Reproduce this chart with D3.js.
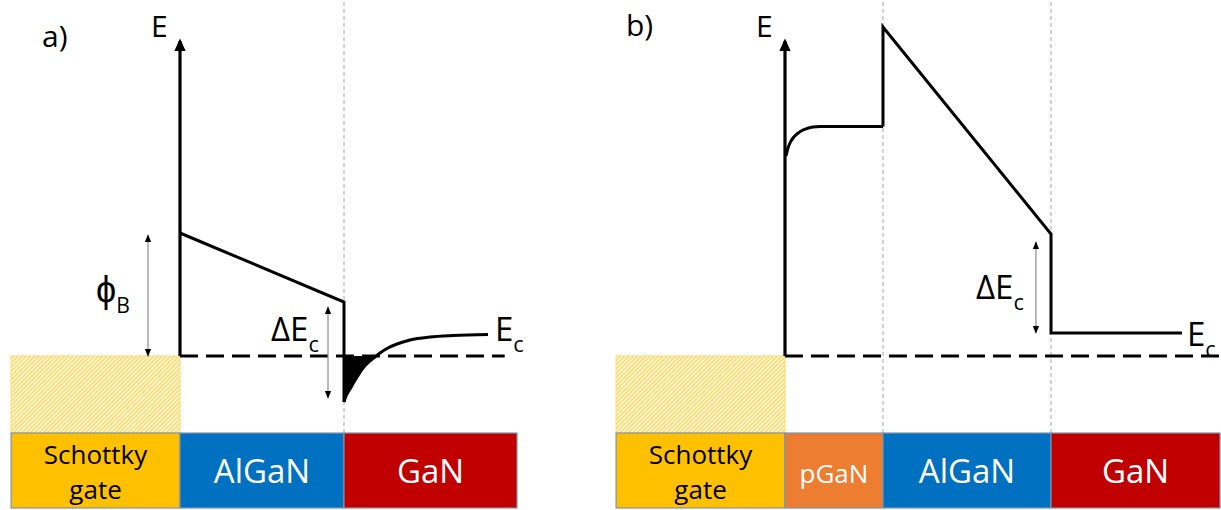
<!DOCTYPE html>
<html><head><meta charset="utf-8">
<script src="https://cdn.jsdelivr.net/npm/d3@7"></script>
<style>
html,body{margin:0;padding:0;background:#fff;}
svg{display:block;font-family:"Open Sans",sans-serif;}
</style></head>
<body>
<svg id="chart" width="1221" height="510"></svg>
<script>
// ---------------- data (position in nm, energy in eV relative to E_F) ----------------
const layerNamesA = ["Schottky gate", "AlGaN", "GaN"];
const layerEdgesA = [-20.6, 0, 20, 41.1];
const layerNamesB = ["Schottky gate", "pGaN", "AlGaN", "GaN"];
const layerEdgesB = [-20.6, 0, 11.95, 32.44, 53.05];

// panel a conduction band
const bandA_lines = [[0, 1.23], [20, 0.54], [20, -0.46]];
const bandA_tail = [[20, -0.46], [20.24, -0.40], [20.73, -0.33], [21.59, -0.21], [22.32, -0.12],
  [23.17, -0.05], [23.78, -0.01], [24.39, 0.03], [25.24, 0.075], [26.46, 0.12], [28.05, 0.16],
  [30.49, 0.19], [33.29, 0.205], [37.56, 0.215]];
const fermiA = [0, 39.6];
const axisTopA = 3.21;
const phiB_A = { x: -3.9, from: 0.0, to: 1.21 };
const dEc_A = { x: 18.05, from: -0.42, to: 0.49 };

// panel b conduction band
const bandB_curve = [[0.12, 2.0], [0.37, 2.08], [0.61, 2.13], [0.98, 2.18], [1.46, 2.22], [2.07, 2.255],
  [2.68, 2.275], [3.41, 2.29], [4.27, 2.295], [11.95, 2.295]];
const bandB_lines = [[11.95, 2.295], [11.95, 3.29], [32.44, 1.22], [32.44, 0.23], [48.41, 0.23]];
const fermiB = [0, 53.17];
const axisTopB = 3.21;
const dEc_B = { x: 30.6, from: 0.23, to: 1.14 };

// ---------------- scales ----------------
const xA = d3.scaleLinear().domain([0, 20]).range([180, 344]);
const xB = d3.scaleLinear().domain([0, 20]).range([785, 949]);
const yE = d3.scaleLinear().domain([0, 1]).range([356, 256]);
const layerColor = d3.scaleOrdinal()
  .domain(["Schottky gate", "pGaN", "AlGaN", "GaN"])
  .range(["#FFC000", "#ED7D31", "#0070C0", "#C00000"]);
const layerTextColor = d3.scaleOrdinal()
  .domain(["Schottky gate", "pGaN", "AlGaN", "GaN"])
  .range(["#000000", "#ffffff", "#ffffff", "#ffffff"]);
const layerFont = d3.scaleOrdinal()
  .domain(["Schottky gate", "pGaN", "AlGaN", "GaN"])
  .range([26, 26, 33, 33]);

const svg = d3.select("#chart");
const defs = svg.append("defs");
const pat = defs.append("pattern").attr("id", "hatch").attr("width", 3).attr("height", 3)
  .attr("patternUnits", "userSpaceOnUse").attr("patternTransform", "rotate(45)");
pat.append("rect").attr("width", 3).attr("height", 3).attr("fill", "#fff6d8");
pat.append("line").attr("x1", 0).attr("y1", 0).attr("x2", 0).attr("y2", 3)
  .attr("stroke", "#FFC000").attr("stroke-width", 1.4);
const mk = defs.append("marker").attr("id", "ah").attr("viewBox", "0 0 10 10")
  .attr("refX", 9).attr("refY", 5).attr("markerWidth", 8).attr("markerHeight", 8)
  .attr("markerUnits", "userSpaceOnUse").attr("orient", "auto-start-reverse");
mk.append("path").attr("d", "M0,1 L10,5 L0,9 Z").attr("fill", "#000");
const mkBig = defs.append("marker").attr("id", "axh").attr("viewBox", "0 0 10 10")
  .attr("refX", 8).attr("refY", 5).attr("markerWidth", 13).attr("markerHeight", 13)
  .attr("markerUnits", "userSpaceOnUse").attr("orient", "auto");
mkBig.append("path").attr("d", "M0,0.5 L10,5 L0,9.5 Z").attr("fill", "#000");

const LAYER_TOP = 433, LAYER_BOT = 508;

function drawPanel(x, names, edges, label, labelPos) {
  const g = svg.append("g");
  edges.slice(2, edges.length - 1).forEach(e => {
    g.append("line").attr("x1", x(e)).attr("x2", x(e)).attr("y1", 2).attr("y2", LAYER_TOP)
      .attr("stroke", "#a6a6a6").attr("stroke-width", 1).attr("stroke-dasharray", "4,3");
  });
  g.append("rect").attr("x", x(edges[0])).attr("y", yE(0)).attr("width", x(edges[1]) - x(edges[0]))
    .attr("height", LAYER_TOP - yE(0)).attr("fill", "url(#hatch)").attr("stroke", "#FFD966").attr("stroke-width", 1);
  names.forEach((n, i) => {
    const x0 = x(edges[i]), x1 = x(edges[i + 1]);
    g.append("rect").attr("x", x0).attr("y", LAYER_TOP).attr("width", x1 - x0).attr("height", LAYER_BOT - LAYER_TOP)
      .attr("fill", layerColor(n)).attr("stroke", "#7f93ae").attr("stroke-width", 1.2);
    const cx = (x0 + x1) / 2;
    if (n === "Schottky gate") {
      g.append("text").attr("text-anchor", "middle").attr("fill", layerTextColor(n))
        .attr("font-size", layerFont(n)).attr("x", cx).attr("y", 464).text("Schottky");
      g.append("text").attr("text-anchor", "middle").attr("fill", layerTextColor(n))
        .attr("font-size", layerFont(n)).attr("x", cx).attr("y", 499).text("gate");
    } else {
      g.append("text").attr("text-anchor", "middle").attr("fill", layerTextColor(n))
        .attr("font-size", layerFont(n)).attr("x", cx).attr("y", 483).text(n);
    }
  });
  g.append("text").attr("x", labelPos[0]).attr("y", labelPos[1]).attr("font-size", 30).text(label);
  return g;
}

function subLabel(g, x, y, main, sub, size, anchor, mainSize) {
  const t = g.append("text").attr("x", x).attr("y", y).attr("font-size", size).attr("text-anchor", anchor || "start");
  t.append("tspan").attr("font-size", mainSize || size).text(main);
  t.append("tspan").attr("font-size", size * 0.66).attr("dy", size * 0.33).text(sub);
  return t;
}

const lineGen = (x) => d3.line().x(d => x(d[0])).y(d => yE(d[1]));

// ---------------- panel a ----------------
const gA = drawPanel(xA, layerNamesA, layerEdgesA, "a)", [42, 47]);
const negPts = bandA_tail.filter(d => d[1] <= 0);
const fillPts = [[20, 0]].concat(negPts).concat([[23.85, 0]]);
gA.append("path").attr("d", d3.line().x(d => xA(d[0])).y(d => yE(d[1])).curve(d3.curveMonotoneY)(fillPts))
  .attr("fill", "#000");
gA.append("line").attr("x1", xA(fermiA[0])).attr("x2", xA(fermiA[1])).attr("y1", yE(0)).attr("y2", yE(0))
  .attr("stroke", "#000").attr("stroke-width", 3).attr("stroke-dasharray", "18,8");
gA.append("line").attr("x1", xA(0)).attr("x2", xA(0)).attr("y1", yE(0)).attr("y2", yE(axisTopA) + 6)
  .attr("stroke", "#000").attr("stroke-width", 3.2).attr("marker-end", "url(#axh)");
gA.append("path").attr("d", lineGen(xA)(bandA_lines)).attr("fill", "none").attr("stroke", "#000")
  .attr("stroke-width", 3).attr("stroke-linejoin", "miter");
gA.append("path").attr("d", lineGen(xA).curve(d3.curveMonotoneX)(bandA_tail)).attr("fill", "none")
  .attr("stroke", "#000").attr("stroke-width", 3);
[phiB_A, dEc_A].forEach(a => {
  gA.append("line").attr("x1", xA(a.x)).attr("x2", xA(a.x)).attr("y1", yE(a.from)).attr("y2", yE(a.to))
    .attr("stroke", "#8c8c8c").attr("stroke-width", 1.2)
    .attr("marker-start", "url(#ah)").attr("marker-end", "url(#ah)");
});
gA.append("text").attr("x", 151).attr("y", 37).attr("font-size", 30).text("E");
subLabel(gA, 96, 302, "ϕ", "B", 32, "start", 36);
subLabel(gA, 271, 341, "ΔE", "c", 33);
subLabel(gA, 495, 341, "E", "c", 33);

// ---------------- panel b ----------------
const gB = drawPanel(xB, layerNamesB, layerEdgesB, "b)", [626, 36]);
gB.append("line").attr("x1", xB(fermiB[0])).attr("x2", xB(fermiB[1])).attr("y1", yE(0)).attr("y2", yE(0))
  .attr("stroke", "#000").attr("stroke-width", 3).attr("stroke-dasharray", "18,8");
gB.append("line").attr("x1", xB(0)).attr("x2", xB(0)).attr("y1", yE(0)).attr("y2", yE(axisTopB) + 6)
  .attr("stroke", "#000").attr("stroke-width", 3.2).attr("marker-end", "url(#axh)");
gB.append("path").attr("d", lineGen(xB).curve(d3.curveMonotoneX)(bandB_curve)).attr("fill", "none")
  .attr("stroke", "#000").attr("stroke-width", 3);
gB.append("path").attr("d", lineGen(xB)(bandB_lines)).attr("fill", "none").attr("stroke", "#000")
  .attr("stroke-width", 3).attr("stroke-linejoin", "miter");
gB.append("line").attr("x1", xB(dEc_B.x)).attr("x2", xB(dEc_B.x)).attr("y1", yE(dEc_B.from)).attr("y2", yE(dEc_B.to))
  .attr("stroke", "#8c8c8c").attr("stroke-width", 1.2)
  .attr("marker-start", "url(#ah)").attr("marker-end", "url(#ah)");
gB.append("text").attr("x", 756).attr("y", 37).attr("font-size", 30).text("E");
subLabel(gB, 976, 299, "ΔE", "c", 33);
subLabel(gB, 1187, 346, "E", "c", 33);
</script>
</body></html>
